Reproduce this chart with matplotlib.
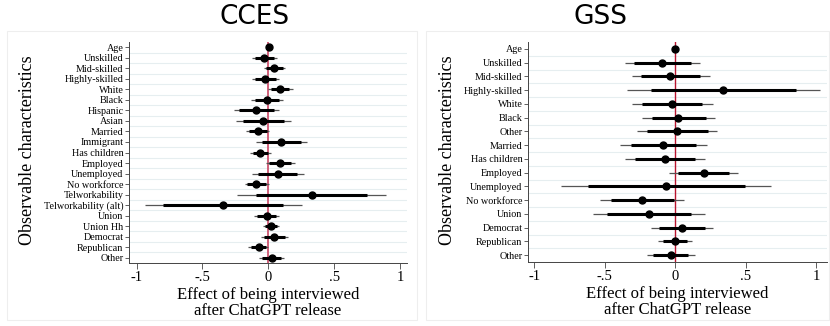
import matplotlib.pyplot as plt
from matplotlib.patches import Rectangle

plt.rcParams['font.family'] = ['Liberation Serif', 'DejaVu Serif']

# CCES estimates: point, 95% interval (thick), 99% interval (thin)
cces_labels = ['Age', 'Unskilled', 'Mid-skilled', 'Highly-skilled', 'White', 'Black',
               'Hispanic', 'Asian', 'Married', 'Immigrant', 'Has children', 'Employed',
               'Unemployed', 'No workforce', 'Telworkability', 'Telworkability (alt)',
               'Union', 'Union Hh', 'Democrat', 'Republican', 'Other']
cces_coef = [0.005, -0.03, 0.046, -0.023, 0.091, -0.012, -0.091, -0.04, -0.081, 0.099,
             -0.061, 0.089, 0.071, -0.091, 0.33, -0.342, -0.013, 0.02, 0.046, -0.073, 0.025]
cces_lo95 = [0.0, -0.104, -0.016, -0.10, 0.02, -0.10, -0.22, -0.19, -0.15, -0.05,
             -0.12, 0.004, -0.076, -0.16, -0.096, -0.80, -0.085, -0.025, -0.032, -0.13, -0.045]
cces_hi95 = [0.01, 0.044, 0.108, 0.055, 0.16, 0.08, 0.04, 0.12, -0.013, 0.25,
             0.0, 0.174, 0.22, -0.02, 0.752, 0.11, 0.06, 0.065, 0.124, -0.015, 0.095]
cces_lo99 = [-0.003, -0.126, -0.033, -0.126, 0.0, -0.134, -0.26, -0.245, -0.17, -0.096,
             -0.139, -0.02, -0.121, -0.18, -0.235, -0.94, -0.106, -0.038, -0.055, -0.152, -0.068]
cces_hi99 = [0.013, 0.068, 0.129, 0.081, 0.185, 0.109, 0.084, 0.17, 0.008, 0.296,
             0.018, 0.203, 0.269, 0.005, 0.891, 0.256, 0.081, 0.083, 0.152, 0.0, 0.119]

# GSS estimates
gss_labels = ['Age', 'Unskilled', 'Mid-skilled', 'Highly-skilled', 'White', 'Black', 'Other',
              'Married', 'Has children', 'Employed', 'Unemployed', 'No workforce', 'Union',
              'Democrat', 'Republican', 'Other']
gss_coef = [0.0, -0.092, -0.035, 0.342, -0.023, 0.022, 0.014, -0.085, -0.071, 0.202,
            -0.064, -0.235, -0.187, 0.048, 0.0, -0.033]
gss_lo95 = [-0.004, -0.29, -0.24, -0.173, -0.237, -0.168, -0.2, -0.315, -0.285, 0.019,
            -0.62, -0.453, -0.484, -0.114, -0.085, -0.16]
gss_hi95 = [0.004, 0.11, 0.176, 0.859, 0.192, 0.216, 0.23, 0.147, 0.14, 0.384,
            0.496, -0.01, 0.112, 0.211, 0.085, 0.093]
gss_lo99 = [-0.006, -0.358, -0.31, -0.346, -0.31, -0.235, -0.27, -0.394, -0.358, -0.047,
            -0.81, -0.536, -0.583, -0.173, -0.121, -0.204]
gss_hi99 = [0.006, 0.176, 0.245, 1.03, 0.266, 0.28, 0.30, 0.223, 0.211, 0.444,
            0.68, 0.064, 0.211, 0.266, 0.117, 0.14]

fig = plt.figure(figsize=(8.3, 3.26), dpi=100)

# faint outer frames of the two panels
for x0, x1 in [(7, 417), (426, 829)]:
    fig.patches.append(Rectangle((x0 / 830, 1 - 320 / 326), (x1 - x0) / 830, (320 - 31) / 326,
                                 transform=fig.transFigure, fill=False,
                                 edgecolor='#eeeeee', lw=0.8))


def coefplot(ax, labels, coef, lo95, hi95, lo99, hi99, xlim, zcolor, zlw):
    n = len(labels)
    ys = list(range(n))
    for y in range(n):
        ax.axhline(y + 0.5, color='#e6eef0', lw=0.8, zorder=0)
    ax.axvline(0, color=zcolor, lw=zlw, zorder=1)
    ax.hlines(ys, lo99, hi99, color='#555555', lw=0.9, zorder=2)
    ax.hlines(ys, lo95, hi95, color='black', lw=2.2, zorder=3)
    ax.plot(coef, ys, 'o', color='black', ms=5, zorder=4)
    ax.set_ylim(n - 0.5, -0.5)
    ax.set_xlim(*xlim)
    ax.set_yticks(ys)
    ax.set_yticklabels(labels, fontsize=7.3)
    ax.set_xticks([-1, -0.5, 0, 0.5, 1])
    ax.set_xticklabels(['-1', '-.5', '0', '.5', '1'], fontsize=10.5)
    ax.tick_params(axis='y', length=3, width=0.6, pad=1, color='#444444')
    ax.tick_params(axis='x', length=4, width=0.6, pad=2, color='#444444')
    for s in ['top', 'right']:
        ax.spines[s].set_visible(False)
    for s in ['left', 'bottom']:
        ax.spines[s].set_color('#444444')
        ax.spines[s].set_linewidth(0.7)
    ax.set_xlabel('Effect of being interviewed\nafter ChatGPT release', fontsize=12,
                  linespacing=0.95, labelpad=2)


ax1 = fig.add_axes([129 / 830, 1 - 263 / 326, 278 / 830, 221 / 326])
coefplot(ax1, cces_labels, cces_coef, cces_lo95, cces_hi95, cces_lo99, cces_hi99,
         (-1.058, 1.053), '#d0607a', 1.4)

ax2 = fig.add_axes([528 / 830, 1 - 262 / 326, 299 / 830, 220 / 326])
coefplot(ax2, gss_labels, gss_coef, gss_lo95, gss_hi95, gss_lo99, gss_hi99,
         (-1.046, 1.078), '#b8142e', 1.0)

fig.text(28 / 830, 1 - 150 / 326, 'Observable characteristics', rotation=90,
         ha='center', va='center', fontsize=13)
fig.text(447 / 830, 1 - 150 / 326, 'Observable characteristics', rotation=90,
         ha='center', va='center', fontsize=13)

fig.text(255 / 830, 1 - 17 / 326, 'CCES', ha='center', va='center', fontsize=19,
         family='DejaVu Sans')
fig.text(600 / 830, 1 - 17 / 326, 'GSS', ha='center', va='center', fontsize=19,
         family='DejaVu Sans')

fig.savefig('out.png', dpi=100)
